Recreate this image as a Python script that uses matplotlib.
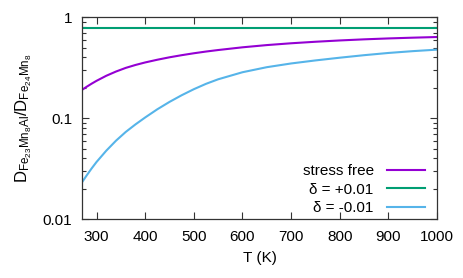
import matplotlib
matplotlib.use("Agg")
import matplotlib.pyplot as plt
from matplotlib.ticker import FixedLocator, LogLocator, NullFormatter

plt.rcParams['font.family'] = ['Liberation Sans', 'DejaVu Sans']
plt.rcParams['mathtext.fontset'] = 'custom'
plt.rcParams['mathtext.rm'] = 'Liberation Sans'
plt.rcParams['mathtext.it'] = 'Liberation Sans'

# values
T = [270, 280, 290, 300, 320, 340, 360, 380, 400, 425, 450, 475, 500, 525,
     550, 600, 650, 700, 750, 800, 850, 900, 950, 1000]
stress_free = [0.1905, 0.2051, 0.2198, 0.2344, 0.2630, 0.2897, 0.3148, 0.3365,
               0.3565, 0.3793, 0.4009, 0.4207, 0.4395, 0.4571, 0.4732, 0.5035,
               0.5297, 0.5521, 0.5715, 0.5888, 0.6039, 0.6166, 0.6273, 0.6368]
delta_plus = [0.775] * len(T)
delta_minus = [0.0231, 0.0272, 0.0318, 0.0368, 0.0476, 0.0598, 0.0730, 0.0867,
               0.1016, 0.1225, 0.1449, 0.1687, 0.1936, 0.2188, 0.2427, 0.2851,
               0.3199, 0.3483, 0.3733, 0.3972, 0.4207, 0.4426, 0.4613, 0.4775]

labels = ['stress free', 'δ = +0.01', 'δ = -0.01']
colors = ['#9400d3', '#009e73', '#56b4e9']

fig = plt.figure(figsize=(4.63, 2.78), dpi=100)
ax = fig.add_axes([0.177, 0.212, 0.767, 0.726])

for y, lab, c in zip([stress_free, delta_plus, delta_minus], labels, colors):
    ax.plot(T, y, color=c, lw=1.5, label=lab)

ax.set_yscale('log')
ax.set_xlim(270, 1000)
ax.set_ylim(0.01, 1)
ax.xaxis.set_major_locator(FixedLocator([300, 400, 500, 600, 700, 800, 900, 1000]))
ax.set_yticks([0.01, 0.1, 1])
ax.set_yticklabels(['0.01', '0.1', '1'])
ax.yaxis.set_minor_locator(LogLocator(base=10, subs=range(2, 10)))
ax.yaxis.set_minor_formatter(NullFormatter())

ax.tick_params(which='both', direction='in', top=True, right=True,
               labelsize=11, color='#333333')
ax.tick_params(axis='x', pad=8)
ax.tick_params(axis='y', pad=7)
ax.tick_params(which='major', length=5, width=0.8)
ax.tick_params(which='minor', length=3, width=0.8)
for s in ax.spines.values():
    s.set_color('#333333')
    s.set_linewidth(0.9)

ax.set_xlabel('T (K)', fontsize=11, labelpad=5)
ax.set_ylabel(r'$\mathrm{D_{Fe_{23}Mn_8Al}/D_{Fe_{24}Mn_8}}$', fontsize=12, labelpad=6)

ax.legend(loc='lower right', bbox_to_anchor=(0.983, -0.012), frameon=False,
          markerfirst=False, fontsize=11, handlelength=2.5, handletextpad=0.85,
          labelspacing=0.3, borderaxespad=0.0)

fig.savefig('out.png', dpi=100)
